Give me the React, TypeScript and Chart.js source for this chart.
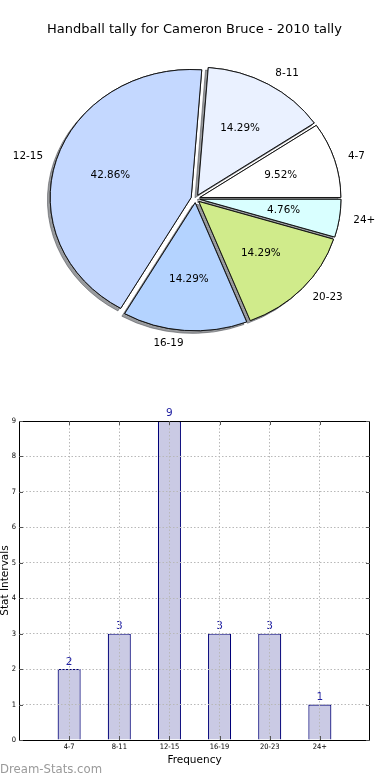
import React, { useEffect, useRef } from 'react';
import { Chart, registerables } from 'chart.js';

Chart.register(...registerables);

// ---- data ----
const categories = ['4-7', '8-11', '12-15', '16-19', '20-23', '24+'];
const tallies = [2, 3, 9, 3, 3, 1];
const sliceColors = ['#ffffff', '#eaf1ff', '#c4d8ff', '#b4d3ff', '#d0eb8b', '#d9ffff'];
const yTickValues = [0, 1, 2, 3, 4, 5, 6, 7, 8, 9];
const chartTitle = 'Handball tally for Cameron Bruce - 2010 tally';
const xAxisTitle = 'Frequency';
const yAxisTitle = 'Stat Intervals';
const watermark = 'Dream-Stats.com';

// ---- derived for pie (matplotlib draws counter-clockwise from 3 o'clock) ----
const pieLabels = [...categories].reverse();
const pieValues = [...tallies].reverse();
const pieColors = [...sliceColors].reverse();
const total = tallies.reduce((a, b) => a + b, 0);
const EXPLODE_PX = 4.5;
const PIE_RADIUS = 141;
const ELLIPSE_K = 128 / 141;

const FONT = '"DejaVu Sans", "Noto Sans", sans-serif';
const SMALL_FONT = '"DejaVu Sans Condensed", "Liberation Sans Narrow", "DejaVu Sans", sans-serif';

const ellipsePlugin = {
  id: 'ellipseShadow',
  beforeDatasetsDraw(chart: any) {
    const meta = chart.getDatasetMeta(0);
    const a0 = meta.data[0];
    const cx = a0.x;
    const cy = a0.y;
    const ctx = chart.ctx;
    ctx.save();
    ctx.translate(cx, cy);
    ctx.scale(1, ELLIPSE_K);
    ctx.translate(-cx, -cy);
    const drawArc = (a: any, shadow: boolean) => {
      const mid = (a.startAngle + a.endAngle) / 2;
      ctx.save();
      ctx.translate(Math.cos(mid) * EXPLODE_PX, Math.sin(mid) * EXPLODE_PX);
      if (shadow) {
        ctx.shadowColor = 'rgba(70,72,78,0.55)';
        ctx.shadowOffsetX = -2.8;
        ctx.shadowOffsetY = 2.6;
        ctx.shadowBlur = 0;
      }
      a.draw(ctx, chart.chartArea);
      ctx.restore();
    };
    meta.data.forEach((a: any) => drawArc(a, true));
    meta.data.forEach((a: any) => drawArc(a, false));
    ctx.restore();
    return false;
  },
};

const pieLabelPlugin = {
  id: 'pieLabels',
  afterDraw(chart: any) {
    const ctx = chart.ctx;
    const meta = chart.getDatasetMeta(0);
    ctx.save();
    ctx.fillStyle = '#000';
    ctx.font = `13px ${FONT}`;
    ctx.textAlign = 'center';
    ctx.textBaseline = 'middle';
    ctx.fillText(chartTitle, 194.5, 30);
    ctx.font = `10.4px ${FONT}`;
    meta.data.forEach((arc: any, i: number) => {
      const { x, y, startAngle, endAngle, outerRadius } = arc.getProps(
        ['x', 'y', 'startAngle', 'endAngle', 'outerRadius'],
        true
      );
      const mid = (startAngle + endAngle) / 2;
      const d = EXPLODE_PX;
      const c = Math.cos(mid);
      const s = Math.sin(mid);
      const lx = x + c * (d + 1.1 * outerRadius);
      const ly = y + s * (d + 1.1 * outerRadius) * ELLIPSE_K;
      ctx.textAlign = c > 0 ? 'left' : 'right';
      ctx.fillText(pieLabels[i], lx, ly);
      const px = x + c * (d + 0.6 * outerRadius);
      const py = y + s * (d + 0.6 * outerRadius) * ELLIPSE_K;
      ctx.textAlign = 'center';
      ctx.fillText(((pieValues[i] / total) * 100).toFixed(2) + '%', px, py);
    });
    ctx.restore();
  },
};

const framePlugin = {
  id: 'frame',
  afterDraw(chart: any) {
    const { ctx, chartArea } = chart;
    const { left, right, top, bottom } = chartArea;
    const xs = chart.scales.x;
    const ys = chart.scales.y;
    ctx.save();
    ctx.strokeStyle = '#000';
    ctx.lineWidth = 1;
    ctx.strokeRect(Math.round(left) + 0.5, Math.round(top) + 0.5, Math.round(right - left) - 1, Math.round(bottom - top));
    ctx.beginPath();
    yTickValues.forEach((v) => {
      const py = Math.round(ys.getPixelForValue(v)) + 0.5;
      ctx.moveTo(left, py);
      ctx.lineTo(left + 4, py);
      ctx.moveTo(right - 4, py);
      ctx.lineTo(right, py);
    });
    categories.forEach((_, i) => {
      const px = Math.round(xs.getPixelForValue(i)) + 0.5;
      ctx.moveTo(px, top);
      ctx.lineTo(px, top + 4);
      ctx.moveTo(px, bottom);
      ctx.lineTo(px, bottom - 4);
    });
    ctx.strokeStyle = '#555';
    ctx.stroke();
    ctx.restore();
  },
};

const valueLabelPlugin = {
  id: 'valueLabels',
  afterDatasetsDraw(chart: any) {
    const ctx = chart.ctx;
    const meta = chart.getDatasetMeta(0);
    ctx.save();
    ctx.fillStyle = '#1c1ca0';
    ctx.font = `10.5px ${FONT}`;
    ctx.textAlign = 'center';
    ctx.textBaseline = 'bottom';
    meta.data.forEach((bar: any, i: number) => {
      ctx.fillText(String(tallies[i]), bar.x, bar.y - 2);
    });
    ctx.restore();
  },
};

export default function App() {
  const pieRef = useRef<HTMLCanvasElement>(null);
  const barRef = useRef<HTMLCanvasElement>(null);

  useEffect(() => {
    document.body.style.margin = '0';
    const pie = new Chart(pieRef.current as HTMLCanvasElement, {
      type: 'pie',
      data: {
        labels: pieLabels,
        datasets: [
          {
            data: pieValues,
            backgroundColor: pieColors,
            borderColor: '#111',
            borderWidth: 1,
            hoverOffset: 0,
          } as any,
        ],
      },
      options: {
        responsive: false,
        animation: false,
        rotation: 90,
        radius: PIE_RADIUS,
        layout: { padding: { left: 45.5, right: 44.5, top: 48.7, bottom: 31.3 } },
        plugins: { legend: { display: false }, tooltip: { enabled: false }, title: { display: false } },
        events: [],
      } as any,
      plugins: [ellipsePlugin, pieLabelPlugin],
    });

    const gridColor = (ctx: any) => {
      const v = ctx.tick ? ctx.tick.value : 0;
      return v < 0 || v > categories.length - 1 ? 'rgba(0,0,0,0)' : '#b8b8b8';
    };

    const bar = new Chart(barRef.current as HTMLCanvasElement, {
      type: 'bar',
      data: {
        datasets: [
          {
            data: categories.map((_, i) => ({ x: i, y: tallies[i] })),
            backgroundColor: '#cacae4',
            borderColor: '#000078',
            borderWidth: 1.2,
            barPercentage: 0.46,
            categoryPercentage: 1,
          } as any,
        ],
      },
      options: {
        responsive: false,
        animation: false,
        events: [],
        layout: { padding: { top: 31, right: 20, left: 0, bottom: 0 } },
        plugins: { legend: { display: false }, tooltip: { enabled: false } },
        scales: {
          x: {
            type: 'linear',
            min: -1,
            max: 6,
            offset: false,
            afterFit: (s: any) => {
              s.height = 40;
            },
            afterBuildTicks: (s: any) => {
              s.ticks = [-1, 0, 1, 2, 3, 4, 5, 6].map((v) => ({ value: v }));
            },
            grid: { offset: false, z: 1, drawTicks: false, color: gridColor, lineWidth: 1 },
            border: { display: false, dash: [1.5, 2] },
            ticks: {
              autoSkip: false,
              maxRotation: 0,
              padding: 3,
              color: '#000',
              font: { family: SMALL_FONT, size: 7.5 },
              callback: (v: any) => (v >= 0 && v < categories.length ? categories[v] : ''),
            },
            title: {
              display: true,
              text: xAxisTitle,
              color: '#000',
              font: { family: FONT, size: 10.5 },
              padding: { top: 0, bottom: 13.7 },
            },
          },
          y: {
            type: 'linear',
            min: 0,
            max: 9,
            afterFit: (s: any) => {
              s.width = 19;
            },
            grid: { z: 1, drawTicks: false, color: '#b8b8b8', lineWidth: 1 },
            border: { display: false, dash: [1.5, 2] },
            ticks: {
              stepSize: 1,
              padding: 3,
              color: '#000',
              font: { family: SMALL_FONT, size: 7.5 },
            },
            title: {
              display: true,
              text: yAxisTitle,
              color: '#000',
              font: { family: FONT, size: 10.5, lineHeight: 1 },
              padding: { top: 0, bottom: 0 },
            },
          },
        },
      } as any,
      plugins: [valueLabelPlugin, framePlugin],
    });

    return () => {
      pie.destroy();
      bar.destroy();
    };
  }, []);

  return (
    <div style={{ position: 'relative', width: 390, height: 780, background: '#fff', overflow: 'hidden' }}>
      <canvas ref={pieRef} width={390} height={380} style={{ position: 'absolute', left: 0, top: 0 }} />
      <canvas ref={barRef} width={390} height={390} style={{ position: 'absolute', left: 0, top: 390 }} />
      <div
        style={{
          position: 'absolute',
          left: 0,
          top: 762,
          fontFamily: FONT,
          fontSize: 11.7,
          lineHeight: '14px',
          color: '#9a9a9a',
          whiteSpace: 'nowrap',
        }}
      >
        {watermark}
      </div>
    </div>
  );
}
